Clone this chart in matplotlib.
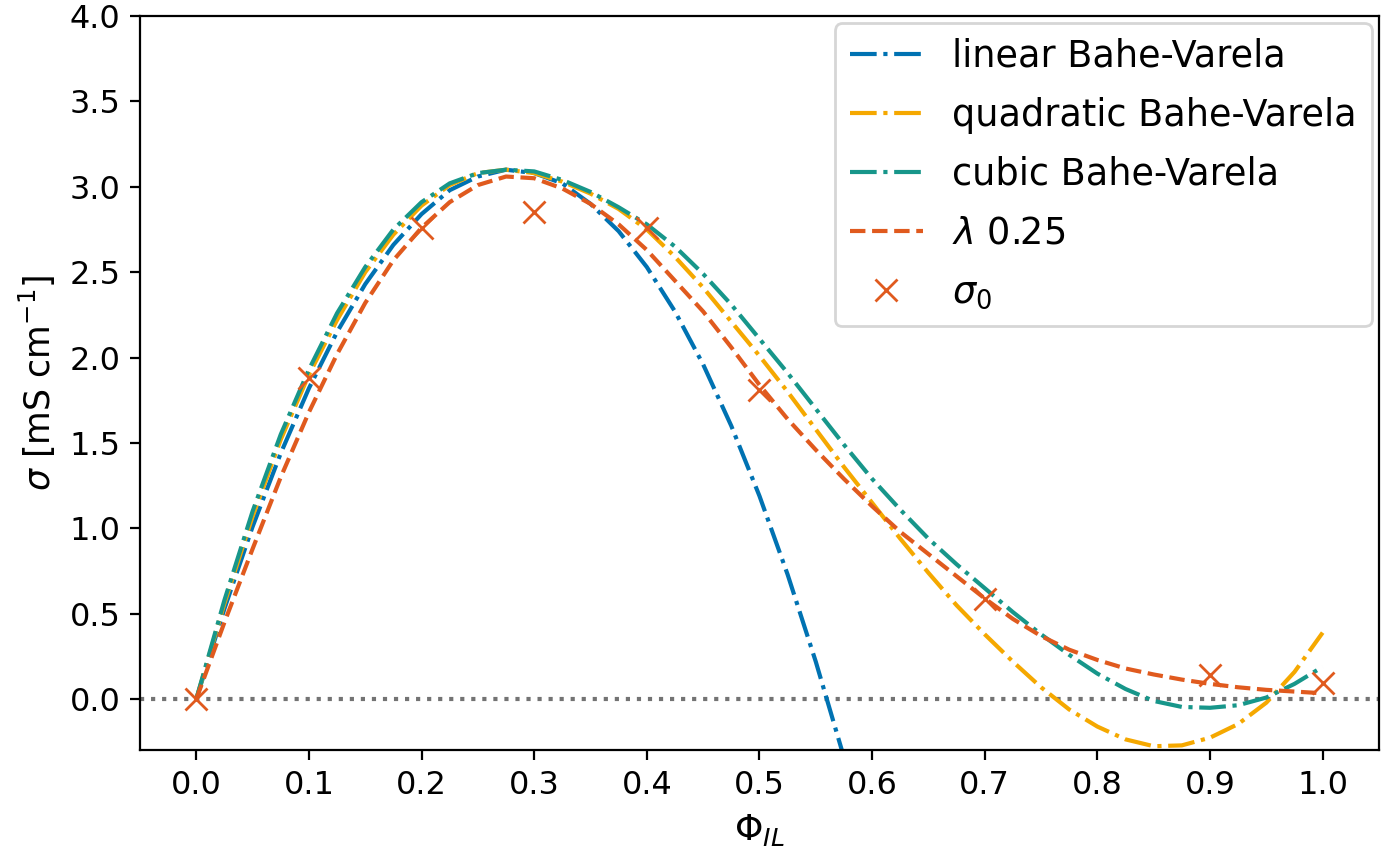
import numpy as np
import matplotlib
matplotlib.use("Agg")
import matplotlib.pyplot as plt

# volume fraction grid for the fitted curves (step 0.025)
phi_fit = np.linspace(0.0, 1.0, 41)

# fitted conductivities [mS/cm]
sigma_linear = [0.00, 0.53, 1.01, 1.44, 1.82, 2.15, 2.43, 2.66, 2.84, 2.98,
                3.06, 3.10, 3.08, 3.02, 2.90, 2.74, 2.53, 2.27, 1.96, 1.60,
                1.19, 0.73, 0.22, -0.34, -0.95]
sigma_quadratic = [0.00, 0.56, 1.07, 1.52, 1.90, 2.22, 2.50, 2.72, 2.89, 3.01,
                   3.08, 3.10, 3.08, 3.03, 2.96, 2.87, 2.75, 2.59, 2.41, 2.21,
                   2.01, 1.80, 1.58, 1.36, 1.15, 0.94, 0.74, 0.55, 0.38, 0.22,
                   0.07, -0.06, -0.16, -0.235, -0.275, -0.27, -0.225, -0.145,
                   -0.02, 0.16, 0.39]
sigma_cubic = [0.00, 0.58, 1.10, 1.55, 1.93, 2.26, 2.53, 2.75, 2.91, 3.02,
               3.08, 3.10, 3.09, 3.04, 2.97, 2.88, 2.78, 2.65, 2.49, 2.31,
               2.11, 1.91, 1.70, 1.49, 1.29, 1.11, 0.94, 0.79, 0.65, 0.51,
               0.38, 0.26, 0.15, 0.06, -0.01, -0.045, -0.05, -0.035, 0.01,
               0.09, 0.19]
sigma_lambda = [0.00, 0.45, 0.88, 1.30, 1.68, 2.02, 2.32, 2.57, 2.76, 2.91,
                3.01, 3.06, 3.05, 2.99, 2.90, 2.78, 2.63, 2.45, 2.27, 2.06,
                1.84, 1.64, 1.46, 1.29, 1.13, 0.98, 0.85, 0.72, 0.59, 0.47,
                0.37, 0.29, 0.23, 0.18, 0.145, 0.115, 0.09, 0.07, 0.055,
                0.045, 0.035]

# measured sigma_0
phi_meas = [0.0, 0.1, 0.2, 0.3, 0.4, 0.5, 0.7, 0.9, 1.0]
sigma_meas = [0.0, 1.88, 2.76, 2.85, 2.76, 1.81, 0.585, 0.14, 0.095]

c_blue = "#0072B2"
c_yellow = "#F5A800"
c_green = "#17968A"
c_red = "#E05A1E"

fig = plt.figure(figsize=(6.99, 4.29), dpi=200)
ax = fig.add_axes([0.1001, 0.1253, 0.8863, 0.8561])

ax.axhline(0.0, color="0.45", ls=":", lw=1.5, zorder=1)

ax.plot(phi_fit[:len(sigma_linear)], sigma_linear, ls="-.", color=c_blue,
        label="linear Bahe-Varela")
ax.plot(phi_fit, sigma_quadratic, ls="-.", color=c_yellow,
        label="quadratic Bahe-Varela")
ax.plot(phi_fit, sigma_cubic, ls="-.", color=c_green,
        label="cubic Bahe-Varela")
ax.plot(phi_fit, sigma_lambda, ls="--", color=c_red, label=r"$\lambda$ 0.25")
ax.plot(phi_meas, sigma_meas, ls="None", marker="x", ms=8, color=c_red,
        label=r"$\sigma_0$")

ax.set_xlim(-0.05, 1.05)
ax.set_ylim(-0.3, 4.0)
ax.set_xticks(np.arange(0, 11) / 10)
ax.set_yticks(np.arange(0, 9) / 2)
ax.tick_params(labelsize=11.5)
ax.set_xlabel(r"$\Phi_{IL}$", fontsize=13)
ax.set_ylabel(r"$\sigma$ [mS cm$^{-1}$]", fontsize=12.5)
ax.legend(loc="upper right", fontsize=13.2, labelspacing=0.6,
          borderaxespad=0.2)

fig.savefig("out.png", dpi=200)
